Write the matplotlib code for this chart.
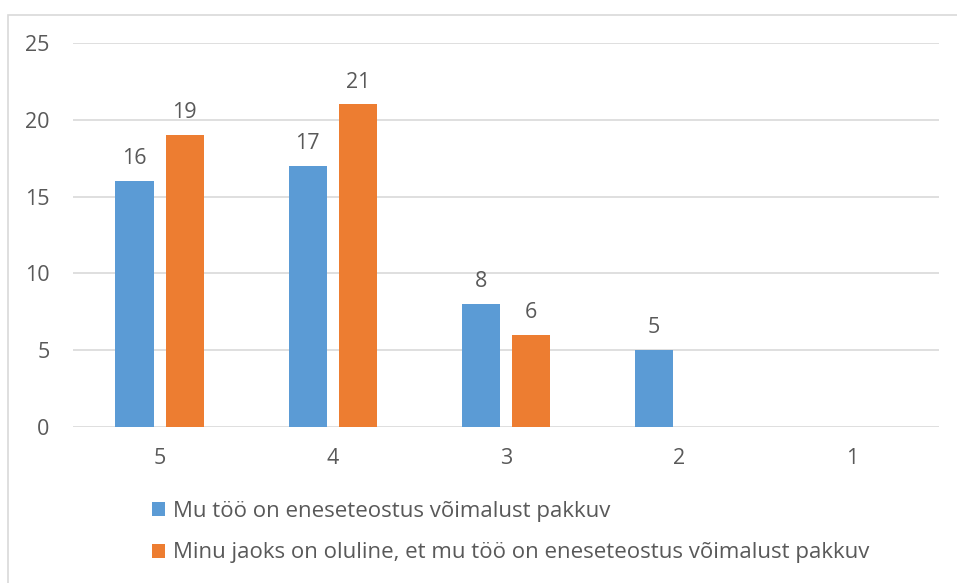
import matplotlib
matplotlib.use("Agg")
import matplotlib.pyplot as plt
from matplotlib.patches import Rectangle
import numpy as np

plt.rcParams["font.family"] = ["Open Sans", "DejaVu Sans"]

categories = ["5", "4", "3", "2", "1"]
series_a = [16, 17, 8, 5, 0]
series_b = [19, 21, 6, 0, 0]
label_a = "Mu töö on eneseteostus võimalust pakkuv"
label_b = "Minu jaoks on oluline, et mu töö on eneseteostus võimalust pakkuv"
yticks = [0, 5, 10, 15, 20, 25]

blue = "#5b9bd5"
orange = "#ed7d31"
text_col = "#595959"
grid_col = "#d9d9d9"

W, H = 957, 583
fig = plt.figure(figsize=(W / 100, H / 100), dpi=100)

# thin frame around the chart area
fig.patches.append(Rectangle((8 / W, -0.1), 1.1, 1 - 15 / H + 0.1, transform=fig.transFigure,
                             fill=False, edgecolor=grid_col, linewidth=1.2))

ax = fig.add_axes([73 / W, 1 - 427 / H, 866 / W, 384 / H])

x = np.arange(len(categories))
w = 0.22
off = 0.145
bars_a = ax.bar(x - off, series_a, w, color=blue, label=label_a, zorder=3)
bars_b = ax.bar(x + off, series_b, w, color=orange, label=label_b, zorder=3)

# value labels only for non-empty bars
for bars, vals in ((bars_a, series_a), (bars_b, series_b)):
    for b, v in zip(bars, vals):
        if v:
            ax.annotate(str(v), (b.get_x() + b.get_width() / 2, v), xytext=(0, 8.5),
                        textcoords="offset points", ha="center", va="bottom",
                        fontsize=15.5, color=text_col)

ax.set_xlim(-0.5, len(categories) - 0.5)
ax.set_ylim(0, 25)
ax.set_yticks(yticks)
ax.set_xticks(x)
ax.set_xticklabels(categories)
ax.tick_params(axis="both", length=0, labelsize=15.5, colors=text_col)
ax.tick_params(axis="y", pad=17)
ax.tick_params(axis="x", pad=15)
ax.grid(axis="y", color=grid_col, linewidth=1.2, zorder=0)
for s in ax.spines.values():
    s.set_visible(False)

fig.legend(loc="upper left", bbox_to_anchor=(152 / W, 1 - 501 / H), frameon=False,
           fontsize=16, labelcolor=text_col, handlelength=0.6, handleheight=0.6,
           handletextpad=0.35, labelspacing=0.92, borderpad=0, borderaxespad=0)

plt.savefig("out.png", dpi=100)
